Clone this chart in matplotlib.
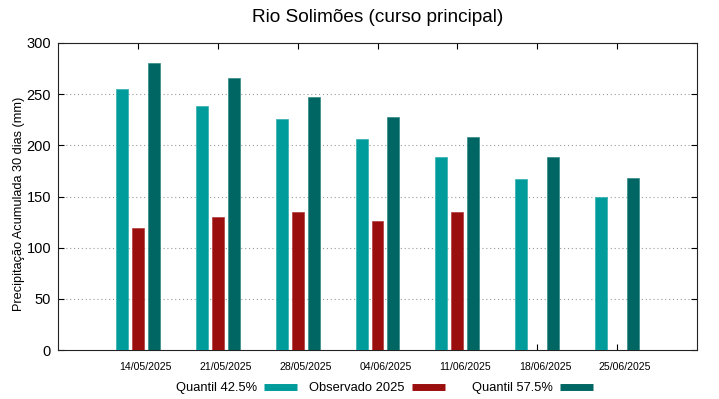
import matplotlib
matplotlib.use("Agg")
import matplotlib.pyplot as plt
from matplotlib.lines import Line2D
import numpy as np

plt.rcParams['font.family'] = ['Liberation Sans', 'DejaVu Sans']

dates = ["14/05/2025", "21/05/2025", "28/05/2025", "04/06/2025",
         "11/06/2025", "18/06/2025", "25/06/2025"]
q425 = [255.3, 238.7, 225.7, 206.2, 189.0, 167.1, 149.8]
obs2025 = [118.9, 130.0, 134.5, 126.0, 135.2, None, None]
q575 = [280.2, 265.5, 247.6, 227.4, 207.8, 188.3, 167.8]

c_q425 = "#009b9b"
c_obs = "#9b0e0e"
c_q575 = "#006663"

fig = plt.figure(figsize=(7.19, 3.99), dpi=100)
ax = fig.add_axes([58/719, 49/399, (697-58)/719, (350-43)/399])

x = np.arange(len(dates))
w = 0.15
off = 0.2
ax.bar(x - off, q425, width=w, color=c_q425, edgecolor="#33b0b0", linewidth=0.5, zorder=3)
obs_x = [xi for xi, v in zip(x, obs2025) if v is not None]
obs_v = [v for v in obs2025 if v is not None]
ax.bar(obs_x, obs_v, width=w, color=c_obs, edgecolor="#b03a3a", linewidth=0.5, zorder=3)
ax.bar(x + off, q575, width=w, color=c_q575, edgecolor="#2f8a86", linewidth=0.5, zorder=3)

ax.set_xlim(-1, 7)
ax.set_ylim(0, 300)
ax.set_yticks(np.arange(0, 301, 50))
# major ticks at groups (no labels), labels slightly shifted right (gnuplot style)
ax.set_xticks(x)
ax.set_xticklabels([])
ax.set_xticks(x + 0.1, minor=True)
ax.set_xticklabels(dates, minor=True, fontsize=7.6)
ax.tick_params(axis='x', which='minor', length=0, pad=9)
ax.tick_params(axis='y', labelsize=10.5, direction='in', length=4, width=0.8,
               right=True, pad=5)
ax.tick_params(axis='x', which='major', direction='in', length=4, width=0.8, top=True)
for gy in range(50, 300, 50):
    ax.axhline(gy, color="#999999", linestyle=(0, (1, 2.5)), linewidth=0.8, zorder=1)
for s in ax.spines.values():
    s.set_linewidth(0.8)
    s.set_color("#222222")

ax.set_ylabel("Precipitação Acumulada 30 dias (mm)", fontsize=9.2)
ax.yaxis.set_label_coords(-0.051, 0.475)
ax.set_title("Rio Solimões (curso principal)", fontsize=13.7, pad=15)

labels = ["Quantil 42.5%", "Observado 2025", "Quantil 57.5%"]
colors = [c_q425, c_obs, c_q575]
right_edges = [297, 445, 593]
for lab, col, re in zip(labels, colors, right_edges):
    fig.legend([Line2D([], [], color=col, lw=5, solid_capstyle='butt')], [lab],
               loc='center right',
               bbox_to_anchor=(re / 719, 1 - 388/399),
               frameon=False, markerfirst=False, fontsize=9.3,
               handlelength=2.55, handletextpad=0.55, borderpad=0, borderaxespad=0)

fig.savefig("out.png", dpi=100)
